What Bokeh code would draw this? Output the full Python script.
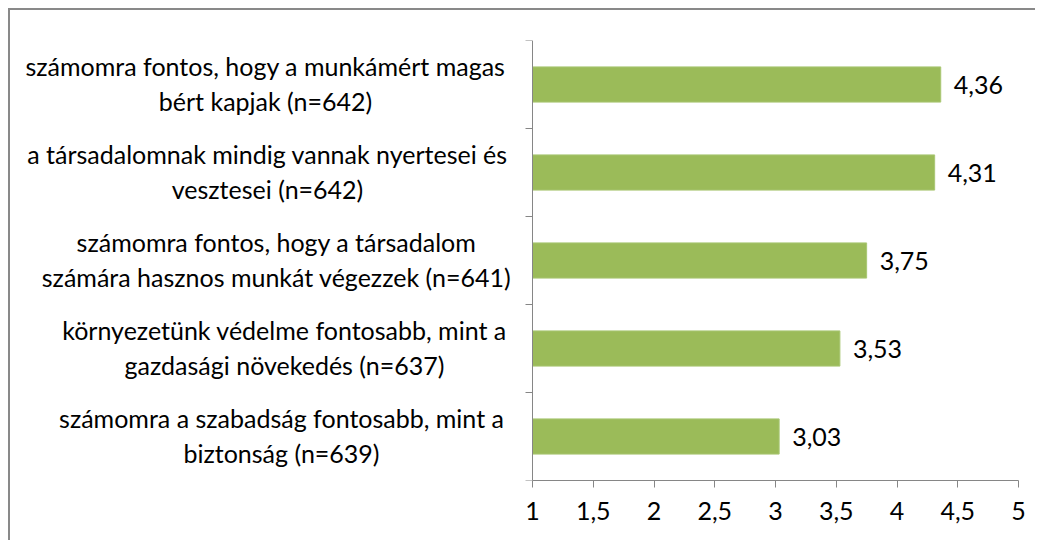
from bokeh.plotting import figure
from bokeh.models import Range1d, FixedTicker, Label, LabelSet, ColumnDataSource, Spacer, LinearAxis
from bokeh.layouts import column, row
from bokeh.core.properties import value
from bokeh.embed import file_html
from bokeh.resources import INLINE

# Categories listed top to bottom, each as two wrapped lines
cat_line1 = [
    "számomra fontos, hogy a munkámért magas",
    "a társadalomnak mindig vannak nyertesei és",
    "számomra fontos, hogy a társadalom",
    "környezetünk védelme fontosabb, mint a",
    "számomra a szabadság fontosabb, mint a",
]
cat_line2 = [
    "bért kapjak (n=642)",
    "vesztesei (n=642)",
    "számára hasznos munkát végezzek (n=641)",
    "gazdasági növekedés (n=637)",
    "biztonság (n=639)",
]
values = [4.36, 4.31, 3.75, 3.53, 3.03]
value_labels = ["4,36", "4,31", "3,75", "3,53", "3,03"]

x_ticks = [1, 1.5, 2, 2.5, 3, 3.5, 4, 4.5, 5]
x_tick_labels = ["1", "1,5", "2", "2,5", "3", "3,5", "4", "4,5", "5"]

FONT = "Lato"
FS = "25px"
AXIS_COLOR = "#868686"
BAR_COLOR = "#9BBB59"

n = len(values)
ys = [n - i - 0.5 for i in range(n)]
src = ColumnDataSource(dict(y=ys, v=values, lab=value_labels))

# frame spans the label area too; the value axis starts at 1 (y axis fixed there)
p = figure(width=1027, height=532, x_range=Range1d(-3.214, 5), y_range=Range1d(0, n),
           output_backend="svg", toolbar_location=None,
           x_axis_location=None, y_axis_location=None,
           min_border_left=10, min_border_right=19, min_border_top=30, min_border_bottom=62)
p.styles = {"border-left": "2px solid #898989", "border-top": "2px solid #898989"}
p.grid.visible = False
p.outline_line_color = None
p.background_fill_color = "white"
p.border_fill_color = "white"

p.hbar(y="y", left=1, right="v", height=0.4, source=src,
       fill_color=BAR_COLOR, line_color="#A9C773", line_width=1)

p.add_layout(LabelSet(x="v", y="y", text="lab", source=src, x_offset=13,
                      text_baseline="middle", text_align="left",
                      text_font=value(FONT), text_font_size=value(FS), text_color="black"))

# x axis
xa = LinearAxis(ticker=FixedTicker(ticks=x_ticks), bounds=(1, 5))
xa.major_label_overrides = {t: l for t, l in zip(x_ticks, x_tick_labels)}
xa.major_label_text_font = FONT
xa.major_label_text_font_size = FS
xa.major_label_text_color = "black"
xa.major_label_standoff = 14
xa.axis_line_color = AXIS_COLOR
xa.major_tick_line_color = AXIS_COLOR
xa.major_tick_out = 7
xa.major_tick_in = 0
xa.minor_tick_line_color = None
p.add_layout(xa, "below")

# y axis at x=1: ticks at category boundaries, labels drawn separately
y_ticks = list(range(n + 1))
ya = LinearAxis(ticker=FixedTicker(ticks=y_ticks), fixed_location=1)
ya.major_label_overrides = {t: "" for t in y_ticks}
ya.major_label_text_color = None
ya.major_label_standoff = 0
ya.axis_line_color = AXIS_COLOR
ya.major_tick_line_color = AXIS_COLOR
ya.major_tick_out = 7
ya.major_tick_in = 0
ya.minor_tick_line_color = None
p.add_layout(ya, "left")

# category labels (two centered lines each), x relative to the frame's left edge
centers = [245, 247, 256, 264, 261]
for i in range(n):
    for txt, off in ((cat_line1[i], 19), (cat_line2[i], -16)):
        p.add_layout(Label(x=centers[i], y=ys[i], x_units="screen", y_units="data",
                           y_offset=off, text=txt, text_align="center",
                           text_baseline="middle", text_font=FONT,
                           text_font_size=FS, text_color="black"))

layout = column(Spacer(height=8), row(Spacer(width=8), p))
open("out.html", "w").write(file_html(layout, INLINE))
